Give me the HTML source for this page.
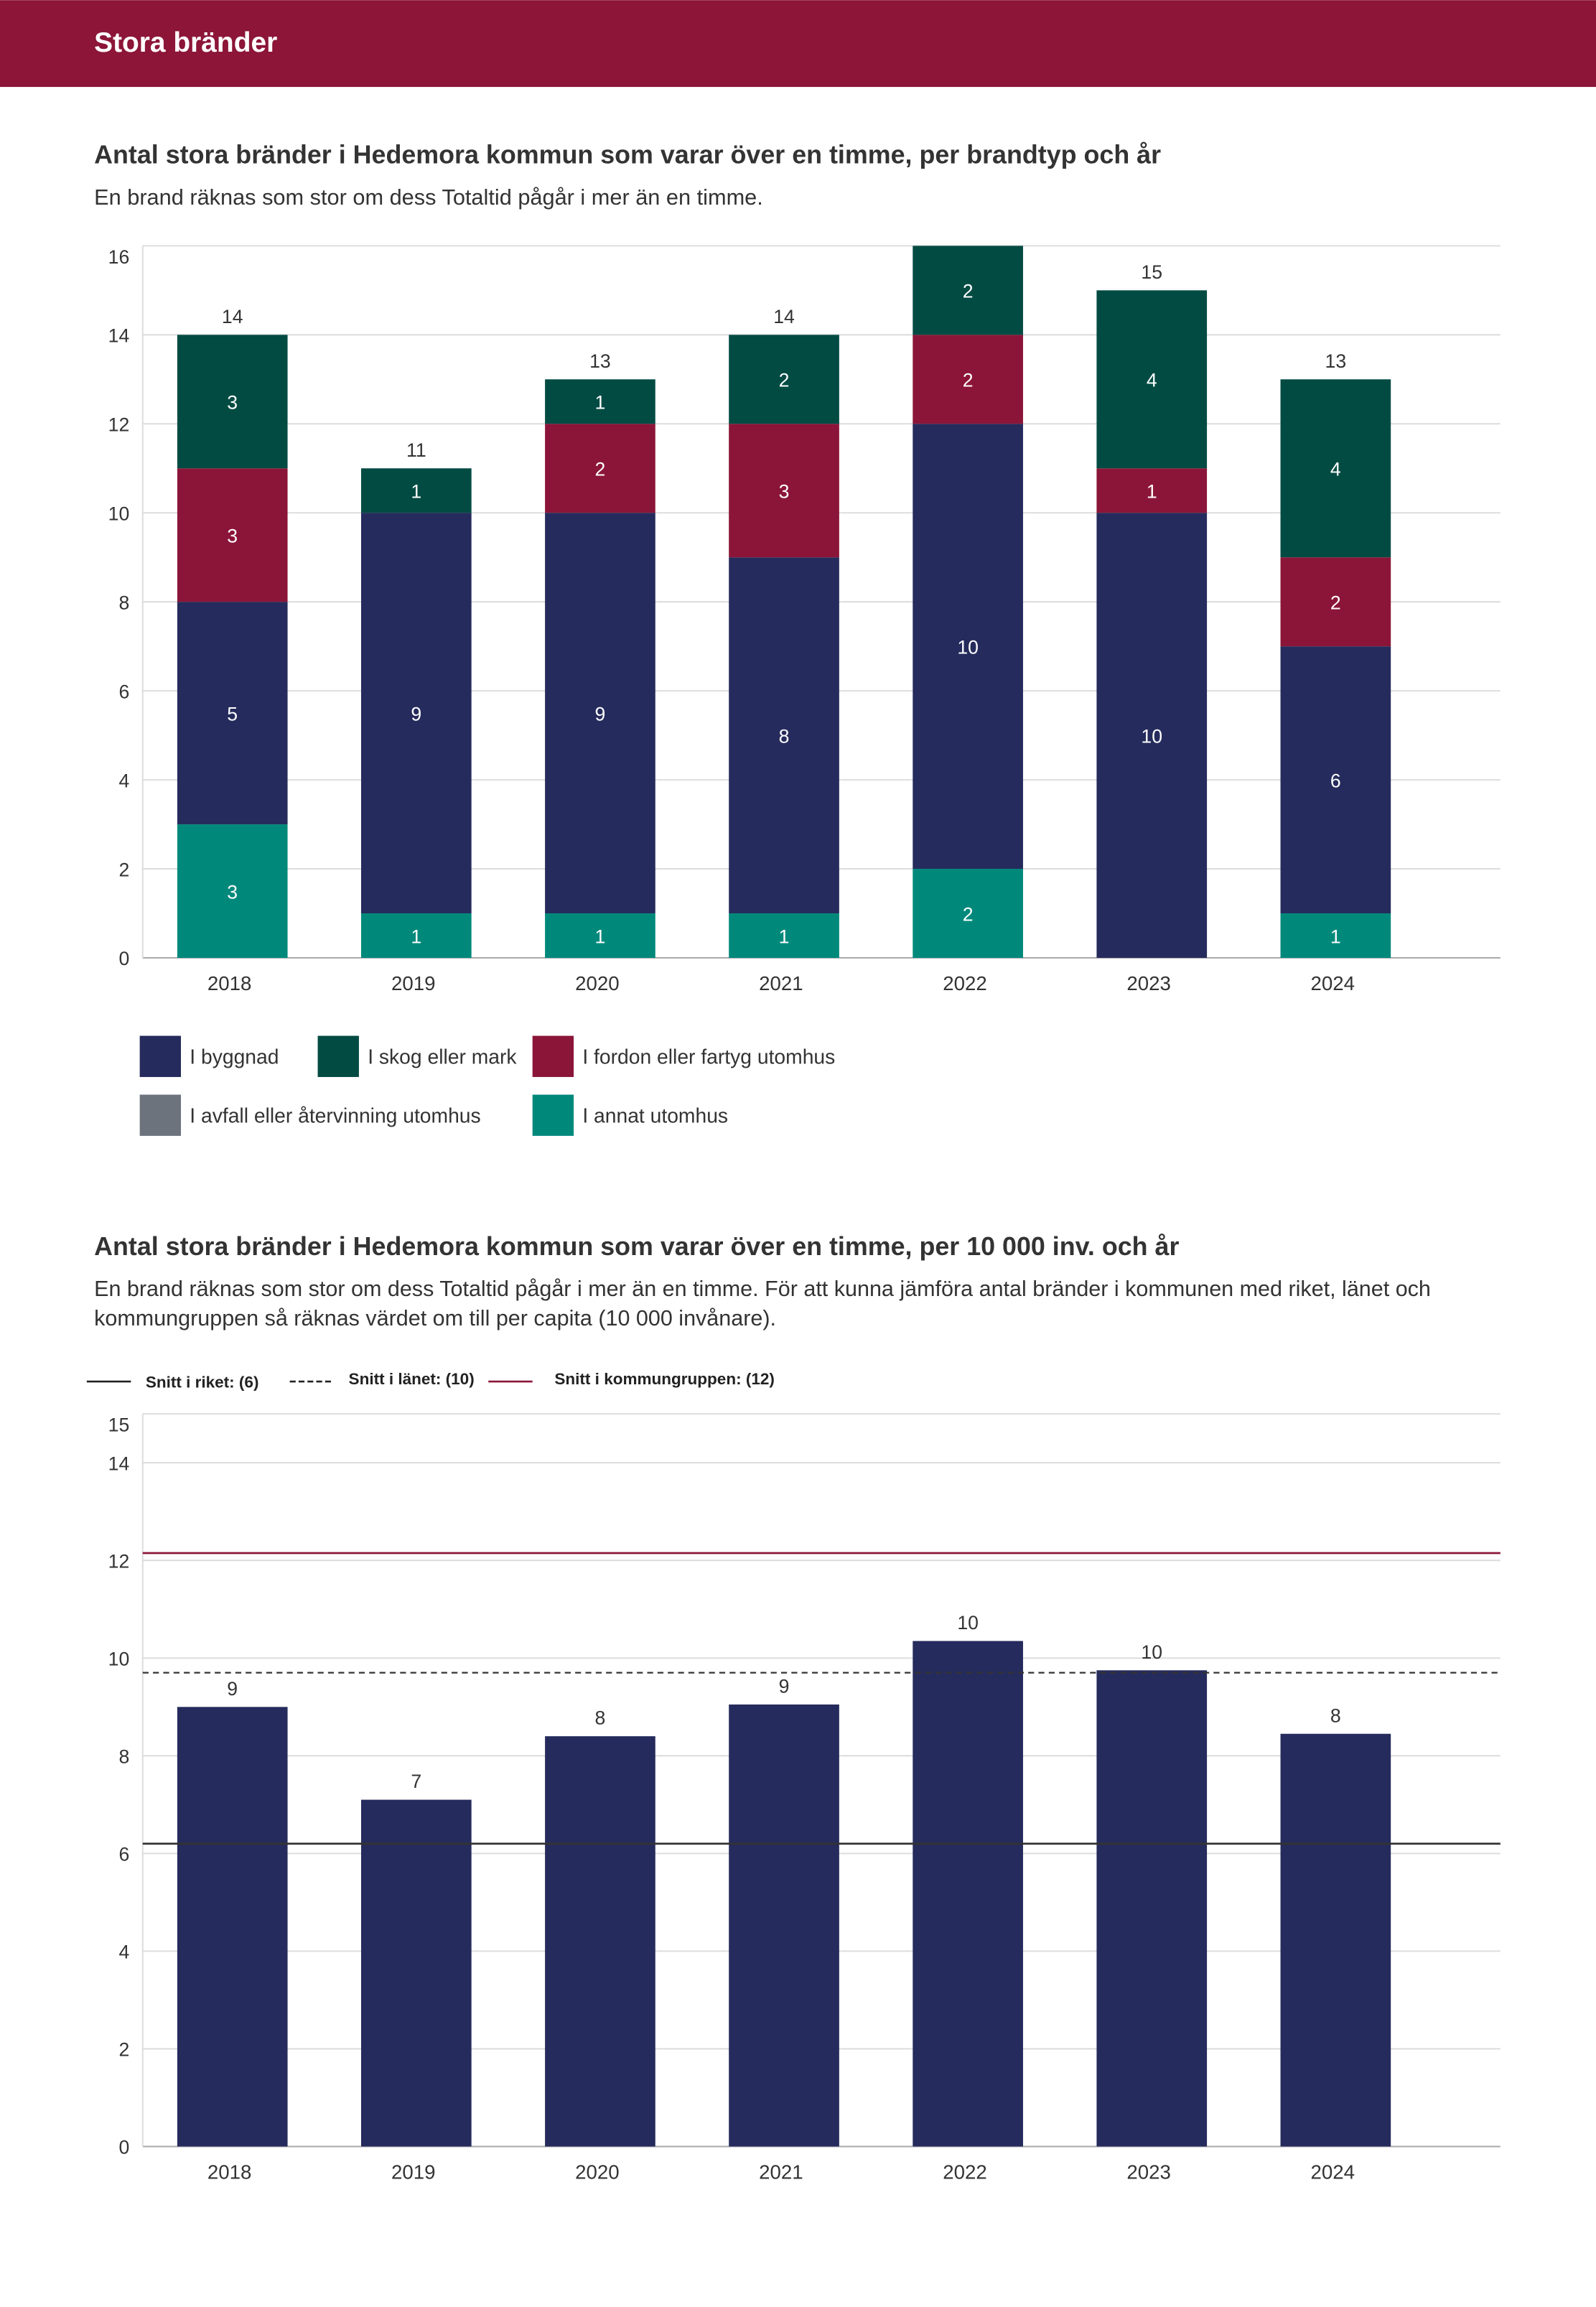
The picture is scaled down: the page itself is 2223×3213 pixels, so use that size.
<!DOCTYPE html>
<html><head><meta charset="utf-8"><style>
html,body{margin:0;padding:0;background:#fff}
svg{display:block;font-family:"Liberation Sans",sans-serif}
</style></head><body>
<svg id="s" width="2223" height="3213" viewBox="0 0 1085 1568" xmlns="http://www.w3.org/2000/svg">
<rect x="0" y="0" width="1085" height="59" fill="#8c1538"/>
<text x="64" y="35" fill="#fff" font-size="19" font-weight="bold">Stora bränder</text>
<text x="64" y="111" fill="#333" font-size="17.5" font-weight="bold">Antal stora bränder i Hedemora kommun som varar över en timme, per brandtyp och år</text>
<text x="64" y="139" fill="#333" font-size="15">En brand räknas som stor om dess Totaltid pågår i mer än en timme.</text>
<g id="c1"></g>
<g>
<rect x="95" y="704" width="28" height="28" fill="#252b5c"/><text x="129" y="723" font-size="13.8" fill="#333">I byggnad</text>
<rect x="216" y="704" width="28" height="28" fill="#024b43"/><text x="250" y="723" font-size="13.8" fill="#333">I skog eller mark</text>
<rect x="362" y="704" width="28" height="28" fill="#8b1538"/><text x="396" y="723" font-size="13.8" fill="#333">I fordon eller fartyg utomhus</text>
<rect x="95" y="744" width="28" height="28" fill="#6c737d"/><text x="129" y="763" font-size="13.8" fill="#333">I avfall eller återvinning utomhus</text>
<rect x="362" y="744" width="28" height="28" fill="#00897b"/><text x="396" y="763" font-size="13.8" fill="#333">I annat utomhus</text>
</g>
<text x="64" y="853" fill="#333" font-size="17.5" font-weight="bold">Antal stora bränder i Hedemora kommun som varar över en timme, per 10 000 inv. och år</text>
<text x="64" y="881" fill="#333" font-size="14.9">En brand räknas som stor om dess Totaltid pågår i mer än en timme. För att kunna jämföra antal bränder i kommunen med riket, länet och</text>
<text x="64" y="901" fill="#333" font-size="14.9">kommungruppen så räknas värdet om till per capita (10 000 invånare).</text>
<g>
<line x1="59" y1="939" x2="89" y2="939" stroke="#222" stroke-width="1.3"/>
<text x="99" y="943" font-size="11" font-weight="bold" fill="#222">Snitt i riket: (6)</text>
<line x1="197" y1="939" x2="227" y2="939" stroke="#222" stroke-width="1.3" stroke-dasharray="4,2"/>
<text x="237" y="941" font-size="11" font-weight="bold" fill="#222">Snitt i länet: (10)</text>
<line x1="332" y1="939" x2="362" y2="939" stroke="#8b1538" stroke-width="1.3"/>
<text x="377" y="941" font-size="11" font-weight="bold" fill="#222">Snitt i kommungruppen: (12)</text>
</g>
<g id="c2"></g>
</svg>
<script>
const years=["2018","2019","2020","2021","2022","2023","2024"];
const annat=[3,1,1,1,2,0,1];
const byggnad=[5,9,9,8,10,10,6];
const fordon=[3,0,2,3,2,1,2];
const skog=[3,1,1,2,2,4,4];
const yTicks1=[0,2,4,6,8,10,12,14,16];
const perCapita=[9.0,7.1,8.4,9.05,10.35,9.75,8.45];
const perCapitaLabels=["9","7","8","9","10","10","8"];
const yTicks2=[0,2,4,6,8,10,12,14,15];
const riket=6.2, lanet=9.7, kommungrupp=12.15;

const NS="http://www.w3.org/2000/svg";
function mk(p,t,a){const e=document.createElementNS(NS,t);for(const k in a)e.setAttribute(k,a[k]);p.appendChild(e);return e;}
const xc=i=>158+125*i;
const x0=97,x1=1020,bw=75;
// chart 1
const c1=document.getElementById('c1');
const y1=v=>651-v*30.25;
const max1=yTicks1[yTicks1.length-1];
yTicks1.forEach(v=>{
 const l=mk(c1,'line',{x1:x0,x2:x1,y1:y1(v),y2:y1(v),stroke:v===0?'#aaa':'#ddd','stroke-width':1});
 
 
 const t=mk(c1,'text',{x:88,y:y1(v)+(v===max1?12:5),'text-anchor':'end','font-size':13,fill:'#333'});t.textContent=v;
 
 
});
const ax=mk(c1,'line',{x1:x0,x2:x0,y1:y1(16),y2:y1(0),stroke:'#ddd'});


const series=[[annat,'#00897b','annat'],[byggnad,'#252b5c','byggnad'],[fordon,'#8b1538','fordon'],[skog,'#024b43','skog']];
years.forEach((yr,i)=>{
 let base=0;
 series.forEach(([arr,col,nm])=>{
  const v=arr[i]; if(!v)return;
  const r=mk(c1,'rect',{x:xc(i)-bw/2,y:y1(base+v),width:bw,height:y1(base)-y1(base+v),fill:col});
  
  
  const t=mk(c1,'text',{x:xc(i),y:(y1(base)+y1(base+v))/2+5,'text-anchor':'middle','font-size':13,fill:'#fff'});t.textContent=v;
  
  
  base+=v;
 });
 if(base<max1){
  const tt=mk(c1,'text',{x:xc(i),y:y1(base)-8,'text-anchor':'middle','font-size':13,fill:'#333'});tt.textContent=base;
  
  
 }
 const xl=mk(c1,'text',{x:xc(i)-2,y:673,'text-anchor':'middle','font-size':13.5,fill:'#333'});xl.textContent=yr;
 
 
});
// chart 2
const c2=document.getElementById('c2');
const y2=v=>1459-v*33.2;
yTicks2.forEach(v=>{
 const l=mk(c2,'line',{x1:x0,x2:x1,y1:y2(v),y2:y2(v),stroke:v===0?'#aaa':'#ddd','stroke-width':1});
 
 
 const t=mk(c2,'text',{x:88,y:y2(v)+(v===15?12:5),'text-anchor':'end','font-size':13,fill:'#333'});t.textContent=v;
 
 
});
const ax2=mk(c2,'line',{x1:x0,x2:x0,y1:y2(15),y2:y2(0),stroke:'#ddd'});


years.forEach((yr,i)=>{
 const v=perCapita[i];
 const r=mk(c2,'rect',{x:xc(i)-bw/2,y:y2(v),width:bw,height:y2(0)-y2(v),fill:'#252b5c'});
 
 
 const t=mk(c2,'text',{x:xc(i),y:y2(v)-8,'text-anchor':'middle','font-size':13,fill:'#333'});t.textContent=perCapitaLabels[i];
 
 
 const xl=mk(c2,'text',{x:xc(i)-2,y:1481,'text-anchor':'middle','font-size':13.5,fill:'#333'});xl.textContent=yr;
 
 
});
const lr=mk(c2,'line',{x1:x0,x2:x1,y1:y2(riket),y2:y2(riket),stroke:'#333','stroke-width':1.3});


const ll=mk(c2,'line',{x1:x0,x2:x1,y1:y2(lanet),y2:y2(lanet),stroke:'#333','stroke-width':1.1,'stroke-dasharray':'4,3'});


const lk=mk(c2,'line',{x1:x0,x2:x1,y1:y2(kommungrupp),y2:y2(kommungrupp),stroke:'#8b1538','stroke-width':1.3});


</script>
</body></html>
